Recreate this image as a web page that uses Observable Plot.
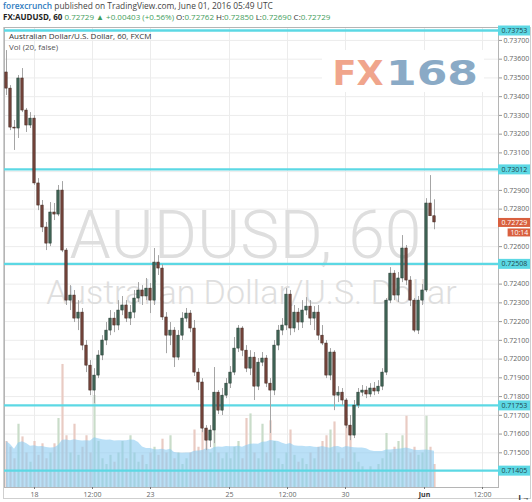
<!DOCTYPE html>
<html>
<head>
<meta charset="utf-8">
<script src="https://cdn.jsdelivr.net/npm/d3@7"></script>
<script src="https://cdn.jsdelivr.net/npm/@observablehq/plot@0.6"></script>
<style>
  html, body { margin: 0; padding: 0; background: #fff; }
  body { width: 532px; height: 502px; position: relative; overflow: hidden; font-family: "Open Sans", sans-serif; }
  #head { position: absolute; left: 3px; top: 0; color: #444; white-space: nowrap; }
  #head .l1 { font-size: 8.4px; line-height: 11px; }
  #head .l2 { font-size: 8px; line-height: 11px; }
  #head .brand { color: #2f7cc0; font-weight: 600; }
  #head .sym { color: #222; font-weight: 700; }
  #head .g { color: #3f9e5c; }
  #head .k { color: #333; }
  #box { position: absolute; left: 3px; top: 27px; width: 526px; height: 470px; border: 1px solid #cfcfcf; }
  #chart { position: absolute; left: 0; top: 25px; width: 532px; height: 477px; }
  #chart svg { position: absolute; left: 0; top: 0; overflow: visible; }
  #legend { position: absolute; left: 9px; top: 31px; font-size: 8px; line-height: 10.5px; color: #333; z-index: 5; }
  #legend .vol { color: #555; }
  #logo { position: absolute; left: 322px; top: 50px; width: 162px; height: 42px; background: #fff; z-index: 1; }
  #logo svg { overflow: visible; }
</style>
</head>
<body>
<div id="head"></div>
<div id="box"></div>
<div id="chart"></div>
<div id="legend"><div>Australian Dollar/U.S. Dollar, 60, FXCM</div><div class="vol">Vol (20, false)</div></div>
<div id="logo">
  <svg width="162" height="42" viewBox="0 0 162 42">
    <text x="10.5" y="35" font-family="DejaVu Sans" font-weight="bold" font-size="34" fill="#f0a58c" textLength="51" lengthAdjust="spacingAndGlyphs">FX</text>
    <text x="64" y="35" font-family="DejaVu Sans" font-weight="bold" font-size="34" fill="#8aaac6" textLength="92" lengthAdjust="spacingAndGlyphs">168</text>
  </svg>
</div>
<script>
// AUD/USD hourly candles (FXCM), oldest first
const open = [
  0.73529, 0.73443, 0.73235, 0.73230, 0.73497, 0.73326, 0.73246, 0.73283, 0.72937, 0.72819,
  0.72702, 0.72616, 0.72782, 0.72771, 0.72899, 0.72579, 0.72312, 0.72339, 0.72216, 0.72248,
  0.72072, 0.71965, 0.71832, 0.71912, 0.72019, 0.72099, 0.72152, 0.72216, 0.72179, 0.72259,
  0.72286, 0.72216, 0.72248, 0.72323, 0.72366, 0.72334, 0.72376, 0.72312, 0.72515, 0.72483,
  0.72222, 0.72125, 0.72152, 0.72008, 0.72125, 0.72216, 0.72243, 0.72163, 0.71928, 0.71875,
  0.71629, 0.71565, 0.71619, 0.71821, 0.71725, 0.71805, 0.71869, 0.71928, 0.72056, 0.72163,
  0.72045, 0.71949, 0.72008, 0.71853, 0.71981, 0.72003, 0.71869, 0.71832, 0.72072, 0.72152,
  0.72179, 0.72344, 0.72163, 0.72248, 0.72195, 0.72259, 0.72280, 0.72216, 0.72248, 0.72125,
  0.72083, 0.71912, 0.72035, 0.71805, 0.71821, 0.71779, 0.71645, 0.71592, 0.71752, 0.71821,
  0.71832, 0.71811, 0.71843, 0.71827, 0.71853, 0.71928, 0.72312, 0.72456, 0.72339, 0.72430,
  0.72590, 0.72419, 0.72312, 0.72152, 0.72312, 0.72366, 0.72830, 0.72762
];
const high = [
  0.73646, 0.73459, 0.73273, 0.73513, 0.73550, 0.73337, 0.73315, 0.73299, 0.72963, 0.72846,
  0.72729, 0.72835, 0.72830, 0.72926, 0.72947, 0.72590, 0.72392, 0.72366, 0.72312, 0.72270,
  0.72099, 0.71992, 0.71949, 0.72045, 0.72125, 0.72195, 0.72259, 0.72248, 0.72312, 0.72334,
  0.72312, 0.72286, 0.72366, 0.72408, 0.72392, 0.72430, 0.72403, 0.72590, 0.72552, 0.72504,
  0.72248, 0.72195, 0.72168, 0.72152, 0.72248, 0.72270, 0.72259, 0.72206, 0.71949, 0.71896,
  0.71645, 0.71645, 0.71955, 0.71832, 0.71843, 0.71896, 0.71960, 0.72115, 0.72179, 0.72173,
  0.72072, 0.72045, 0.72035, 0.72003, 0.72035, 0.72019, 0.71896, 0.72099, 0.72179, 0.72216,
  0.72376, 0.72366, 0.72286, 0.72270, 0.72312, 0.72328, 0.72312, 0.72280, 0.72286, 0.72179,
  0.72099, 0.72056, 0.72045, 0.71853, 0.71843, 0.71789, 0.71699, 0.71779, 0.71843, 0.71859,
  0.71853, 0.71869, 0.71875, 0.71885, 0.71949, 0.72323, 0.72488, 0.72472, 0.72462, 0.72659,
  0.72606, 0.72440, 0.72323, 0.72334, 0.72398, 0.72856, 0.72979, 0.72850
];
const low = [
  0.73406, 0.73219, 0.73113, 0.73177, 0.73315, 0.73209, 0.73230, 0.72926, 0.72792, 0.72675,
  0.72579, 0.72600, 0.72739, 0.72760, 0.72568, 0.72286, 0.72259, 0.72195, 0.72152, 0.72045,
  0.71928, 0.71805, 0.71763, 0.71896, 0.71992, 0.72072, 0.72125, 0.72141, 0.72152, 0.72232,
  0.72195, 0.72179, 0.72216, 0.72302, 0.72286, 0.72312, 0.72243, 0.72286, 0.72446, 0.72206,
  0.72029, 0.72072, 0.71955, 0.71992, 0.72099, 0.72195, 0.72141, 0.71907, 0.71832, 0.71608,
  0.71512, 0.71528, 0.71549, 0.71704, 0.71699, 0.71789, 0.71843, 0.71912, 0.72035, 0.72013,
  0.71928, 0.71912, 0.71779, 0.71832, 0.71960, 0.71848, 0.71603, 0.71805, 0.72045, 0.72125,
  0.72152, 0.72125, 0.72141, 0.72152, 0.72163, 0.72232, 0.72179, 0.72152, 0.72099, 0.72072,
  0.71896, 0.71885, 0.71725, 0.71768, 0.71752, 0.71629, 0.71565, 0.71576, 0.71736, 0.71800,
  0.71789, 0.71795, 0.71805, 0.71811, 0.71832, 0.71912, 0.72296, 0.72312, 0.72302, 0.72408,
  0.72392, 0.72280, 0.72141, 0.72131, 0.72286, 0.72355, 0.72766, 0.72690
];
const close = [
  0.73443, 0.73235, 0.73230, 0.73497, 0.73326, 0.73246, 0.73283, 0.72937, 0.72819, 0.72702,
  0.72616, 0.72782, 0.72771, 0.72899, 0.72579, 0.72312, 0.72339, 0.72216, 0.72248, 0.72072,
  0.71965, 0.71832, 0.71912, 0.72019, 0.72099, 0.72152, 0.72216, 0.72179, 0.72259, 0.72286,
  0.72216, 0.72248, 0.72323, 0.72366, 0.72334, 0.72376, 0.72312, 0.72515, 0.72483, 0.72222,
  0.72125, 0.72152, 0.72008, 0.72125, 0.72216, 0.72243, 0.72163, 0.71928, 0.71875, 0.71629,
  0.71565, 0.71619, 0.71821, 0.71725, 0.71805, 0.71869, 0.71928, 0.72056, 0.72163, 0.72045,
  0.71949, 0.72008, 0.71853, 0.71981, 0.72003, 0.71869, 0.71832, 0.72072, 0.72152, 0.72179,
  0.72344, 0.72163, 0.72248, 0.72195, 0.72259, 0.72280, 0.72216, 0.72248, 0.72125, 0.72083,
  0.71912, 0.72035, 0.71805, 0.71821, 0.71779, 0.71645, 0.71592, 0.71752, 0.71821, 0.71832,
  0.71811, 0.71843, 0.71827, 0.71853, 0.71928, 0.72312, 0.72456, 0.72339, 0.72430, 0.72590,
  0.72419, 0.72312, 0.72152, 0.72312, 0.72366, 0.72830, 0.72762, 0.72729
];
// tick volume per candle
const volume = [
  40, 35, 25, 55, 44, 30, 22, 40, 28, 38,
  25, 30, 38, 60, 107, 45, 30, 55, 28, 35,
  45, 30, 80, 40, 25, 20, 28, 22, 30, 40,
  25, 45, 30, 22, 28, 20, 30, 35, 28, 42,
  30, 45, 25, 30, 20, 25, 30, 50, 35, 50,
  52, 30, 70, 30, 25, 30, 25, 35, 40, 25,
  60, 64, 30, 25, 55, 30, 58, 40, 25, 20,
  30, 50, 28, 22, 25, 20, 30, 25, 35, 40,
  45, 50, 57, 30, 25, 60, 45, 30, 22, 18,
  15, 18, 15, 20, 25, 47, 30, 35, 40, 45,
  62, 30, 35, 28, 30, 62, 35, 20
];
// time axis: candle index of each labelled tick, and its label
const timeTicks = [7, 21.5, 36, 55.75, 70.25, 84.75, 104.5, 119];
const timeLabels = ["18", "12:00", "23", "25", "12:00", "30", "Jun", "12:00"];
// horizontal support / resistance levels
const levels = [0.73753, 0.73012, 0.72508, 0.71753, 0.71405];
const priceTicks = d3.range(715, 738).map(k => k / 1000);
const symbol = "FX:AUDUSD, 60";
const change = "+0.00403 (+0.56%)";
const countdown = "10:14";

const bars = open.map((o, i) => ({
  i, o, h: high[i], l: low[i], c: close[i], v: volume[i], up: close[i] >= o
}));
const last = bars[bars.length - 1];

// header
const f5 = d3.format(".5f");
document.getElementById("head").innerHTML =
  `<div class="l1"><span class="brand">forexcrunch</span> published on TradingView.com, June 01, 2016 05:49 UTC</div>` +
  `<div class="l2"><span class="sym">${symbol}</span> <span class="g">${f5(last.c)}</span> <span class="g">&#9650; ${change}</span> ` +
  `<span class="k">O:</span><span class="g">${f5(last.o)}</span> <span class="k">H:</span><span class="g">${f5(last.h)}</span> ` +
  `<span class="k">L:</span><span class="g">${f5(last.l)}</span> <span class="k">C:</span><span class="g">${f5(last.c)}</span></div>`;

const W = 532, H = 477;
const xDomain = [-0.5, 123];
const xEdge = xDomain[1];        // right edge of the plotting area
const xLabelEnd = xEdge + 8;     // right end of the price-axis tags
const frame = {width: W, height: H, marginTop: 2, marginBottom: 15, marginLeft: 4, marginRight: 34,
  style: {background: "transparent", fontFamily: "'Open Sans', sans-serif"}};
const priceY = {domain: [0.71315, 0.73769]};

// axis labels hidden underneath a tag
const tags = [...levels, last.c];
const labelledTicks = priceTicks.filter(t => tags.every(v => Math.abs(v - t) > 0.0003));

const upFill = "#3f6456", upStroke = "#22352c";
const dnFill = "#74443a", dnStroke = "#3b221b";
const cyan = "#5cd8e4";

// layer 1: grid and watermark
const grid = Plot.plot({
  ...frame,
  x: {domain: xDomain, axis: null},
  y: {...priceY, axis: null},
  marks: [
    Plot.gridY(priceTicks, {stroke: "#ececec", strokeOpacity: 1}),
    Plot.gridX(timeTicks, {stroke: "#ececec", strokeOpacity: 1}),
    Plot.text(["AUDUSD, 60"], {frameAnchor: "top", lineAnchor: "middle", dy: 209, dx: -6,
      fontSize: 66, fontWeight: 300, fill: "#dedede", fontFamily: "Roboto"}),
    Plot.text(["Australian Dollar/U.S. Dollar"], {frameAnchor: "top", lineAnchor: "middle", dy: 266,
      fontSize: 34, fontWeight: 300, fill: "#dedede", fontFamily: "Roboto"}),
    Plot.frame({stroke: "#b5b5b5"})
  ]
});

// layer 2: volume bars with their 20-period average
const vol = Plot.plot({
  ...frame,
  x: {domain: xDomain, axis: null},
  y: {domain: [0, 400], axis: null},
  marks: [
    Plot.ruleX(bars, {x: "i", y: "v", stroke: d => d.up ? "#c9dcc9" : "#e9cbc3", strokeWidth: 2.2}),
    Plot.areaY(bars, Plot.windowY({k: 20, anchor: "end"}, {x: "i", y: "v", fill: "#8ccbf2", fillOpacity: 0.6}))
  ]
});

// layer 3: levels, candles, axes and price tags
const price = Plot.plot({
  ...frame,
  x: {domain: xDomain, axis: null},
  y: {...priceY, axis: null},
  marks: [
    Plot.ruleY(levels, {stroke: cyan, strokeWidth: 2.4}),
    Plot.ruleX(bars, {x: "i", y1: "l", y2: "h", stroke: "#a5a5a5", strokeWidth: 1}),
    Plot.rect(bars, {x1: d => d.i - 0.3, x2: d => d.i + 0.3, y1: "o", y2: "c",
      fill: d => d.up ? upFill : dnFill, stroke: d => d.up ? upStroke : dnStroke, strokeWidth: 0.5}),
    Plot.axisY(labelledTicks, {anchor: "right", tickSize: 3, tickPadding: 2, tickFormat: f5,
      fontSize: 7, fill: "#666", stroke: "#999"}),
    Plot.axisX(timeTicks.filter((d, i) => timeLabels[i] !== "Jun"), {
      tickSize: 2, tickPadding: 3, fontSize: 7, fill: "#666", stroke: "#777",
      tickFormat: d => timeLabels[timeTicks.indexOf(d)]}),
    Plot.axisX(timeTicks.filter((d, i) => timeLabels[i] === "Jun"), {
      tickSize: 2, tickPadding: 3, fontSize: 7, fill: "#333", fontWeight: "bold", stroke: "#777",
      tickFormat: d => timeLabels[timeTicks.indexOf(d)]}),
    Plot.ruleY(levels, {x1: xEdge, x2: xLabelEnd, stroke: cyan, strokeWidth: 10}),
    Plot.text(levels, {y: d => d, frameAnchor: "right", textAnchor: "start", dx: 3,
      text: f5, fontSize: 7, fill: "#23474c"}),
    Plot.ruleY([last.c], {x1: xEdge, x2: xLabelEnd, stroke: "#d9603f", strokeWidth: 9}),
    Plot.text([last.c], {y: d => d, frameAnchor: "right", textAnchor: "start", dx: 3,
      text: f5, fontSize: 7, fill: "#fff"}),
    Plot.ruleY([last.c], {x1: xEdge + 2.4, x2: xLabelEnd, dy: 10, stroke: "#d9603f", strokeWidth: 8}),
    Plot.text([last.c], {y: d => d, frameAnchor: "right", textAnchor: "start", dx: 12, dy: 10,
      text: () => countdown, fontSize: 7, fill: "#fff"})
  ]
});

const chart = document.getElementById("chart");
chart.append(grid, vol, price);
</script>
</body>
</html>
